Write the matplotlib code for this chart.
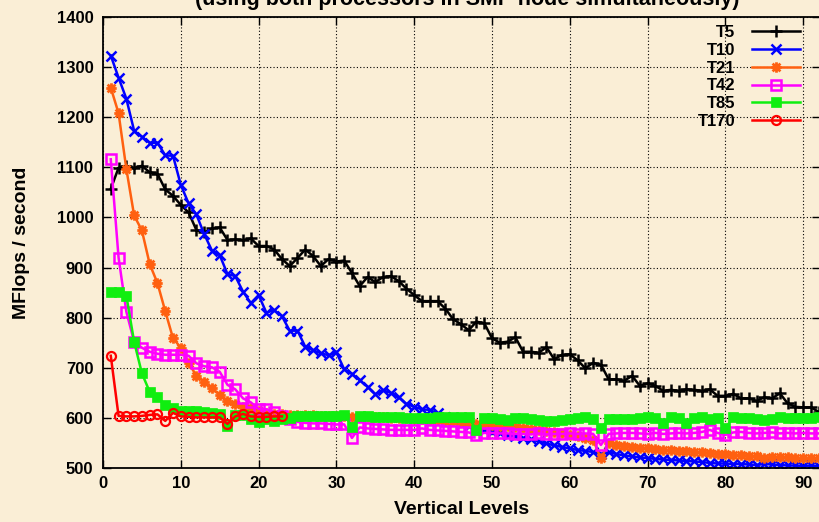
import numpy as np
import matplotlib
matplotlib.use("Agg")
import matplotlib.pyplot as plt
from matplotlib.path import Path

plt.rcParams['font.family'] = ['Liberation Sans', 'DejaVu Sans']
plt.rcParams['font.weight'] = 'bold'

levels = list(range(1, 93))

t5 = [1057, 1099, 1103, 1099, 1103, 1090, 1087, 1056, 1043, 1025,
      1010, 975, 970, 978, 980, 955, 956, 955, 958, 943,
      943, 936, 917, 903, 919, 936, 923, 903, 917, 912,
      914, 889, 863, 881, 871, 881, 883, 873, 858, 845,
      833, 833, 833, 818, 797, 787, 775, 792, 789, 759,
      750, 752, 761, 732, 732, 730, 741, 717, 726, 727,
      715, 699, 710, 706, 677, 677, 674, 684, 664, 669,
      664, 654, 656, 654, 657, 656, 654, 657, 644, 644,
      648, 639, 639, 634, 641, 639, 649, 629, 622, 621,
      621, 612]

t10 = [1323, 1279, 1237, 1173, 1161, 1149, 1149, 1124, 1123, 1065,
       1028, 1006, 967, 934, 925, 887, 883, 852, 829, 845,
       810, 815, 803, 774, 774, 742, 735, 729, 725, 731,
       697, 688, 675, 662, 647, 655, 650, 641, 628, 622,
       617, 616, 609, 602, 594, 587, 583, 579, 575, 572,
       569, 566, 563, 560, 557, 553, 549, 545, 542, 539,
       536, 534, 532, 528, 531, 528, 525, 523, 521, 520,
       518, 517, 516, 515, 514, 513, 512, 510, 509, 509,
       508, 508, 507, 506, 508, 507, 506, 505, 505, 504,
       505, 504]

t21 = [1259, 1208, 1097, 1004, 974, 907, 869, 813, 759, 740,
       710, 684, 672, 659, 646, 634, 628, 622, 619, 613,
       610, 608, 607, 606, 606, 605, 605, 604, 604, 604,
       604, 602, 602, 601, 601, 601, 600, 600, 599, 598,
       597, 596, 595, 594, 593, 592, 590, 588, 587, 586,
       584, 583, 581, 579, 578, 576, 574, 572, 569, 566,
       563, 560, 556, 519, 550, 546, 544, 542, 540, 539,
       538, 536, 535, 534, 533, 532, 531, 529, 528, 527,
       526, 525, 524, 523, 520, 521, 522, 521, 520, 519,
       519, 519]

t42 = [1116, 920, 812, 752, 740, 732, 728, 726, 726, 726,
       724, 709, 703, 701, 692, 666, 657, 639, 631, 618,
       617, 612, 604, 597, 592, 590, 589, 589, 588, 587,
       587, 560, 581, 579, 578, 577, 576, 576, 576, 576,
       579, 576, 575, 574, 573, 572, 571, 566, 570, 570,
       569, 569, 568, 568, 567, 569, 567, 568, 568, 569,
       568, 569, 568, 546, 568, 569, 570, 570, 569, 568,
       570, 568, 569, 570, 569, 570, 572, 576, 570, 566,
       571, 572, 570, 569, 570, 571, 569, 570, 569, 570,
       569, 569]

t85 = [851, 851, 844, 752, 689, 652, 642, 626, 619, 614,
       614, 613, 611, 610, 607, 583, 606, 605, 597, 592,
       597, 594, 598, 600, 603, 604, 604, 603, 603, 604,
       606, 582, 604, 603, 602, 602, 602, 601, 600, 600,
       600, 600, 601, 602, 602, 602, 601, 576, 600, 599,
       597, 596, 600, 599, 598, 595, 594, 593, 595, 597,
       600, 601, 598, 579, 598, 598, 597, 597, 599, 601,
       600, 590, 602, 600, 590, 599, 601, 598, 600, 579,
       601, 600, 599, 598, 595, 598, 601, 600, 599, 600,
       599, 601]

t170_levels = list(range(1, 24))
t170 = [724, 604, 603, 603, 604, 606, 607, 594, 610, 603,
        602, 601, 601, 601, 601, 588, 603, 608, 603, 602,
        602, 603, 603]

labels = ['T5', 'T10', 'T21', 'T42', 'T85', 'T170']
xticks = [0, 10, 20, 30, 40, 50, 60, 70, 80, 90]
yticks = [500, 600, 700, 800, 900, 1000, 1100, 1200, 1300, 1400]

bg = '#faeed6'

# asterisk marker (+ and x overlaid), like gnuplot point type 3
star = Path([(-1, 0), (1, 0), (0, -1), (0, 1),
             (-0.75, -0.75), (0.75, 0.75), (-0.75, 0.75), (0.75, -0.75)],
            [Path.MOVETO, Path.LINETO] * 4)

W, H = 819, 522
fig = plt.figure(figsize=(W / 100, H / 100), dpi=100, facecolor=bg)
ax_left, ax_right = 103, 820.3
ax_top, ax_bot = 17, 468
ax = fig.add_axes([ax_left / W, 1 - ax_bot / H, (ax_right - ax_left) / W, (ax_bot - ax_top) / H])
ax.set_facecolor(bg)

lw = 1.8
ax.plot(levels, t5, color='black', lw=lw, marker='+', ms=9, mew=1.8, label=labels[0])
ax.plot(levels, t10, color='#0000ff', lw=lw, marker='x', ms=7, mew=1.8, label=labels[1])
ax.plot(levels, t21, color='#ff6010', lw=lw, marker=star, ms=7.5, mew=2.0, label=labels[2])
ax.plot(levels, t42, color='#ff00ff', lw=lw, marker='s', ms=6.5, mew=1.8, mfc='none', label=labels[3])
ax.plot(levels, t85, color='#10ee10', lw=lw, marker='s', ms=6.5, mew=0.5, label=labels[4])
ax.plot(t170_levels, t170, color='#ff0000', lw=lw, marker='o', ms=6.5, mew=1.6, mfc='none', label=labels[5])

ax.set_xlim(0, 92.2)
ax.set_ylim(500, 1400)
ax.set_xticks(xticks)
ax.set_yticks(yticks)
ax.grid(True, color='black', linestyle=(0, (1, 2)), linewidth=0.8)
ax.tick_params(direction='in', length=6, width=1, top=True, right=True,
               labelsize=12, pad=7)
ax.tick_params(axis='x', pad=6)
for s in ax.spines.values():
    s.set_linewidth(1.3)

ax.set_xlabel('Vertical Levels', fontsize=14, fontweight='bold', labelpad=7)
ax.set_ylabel('MFlops / second', fontsize=14, fontweight='bold')
ax.yaxis.set_label_coords(-0.102, 0.5)

leg = ax.legend(loc='upper right', bbox_to_anchor=(800 / W, 1 - 25 / H),
                bbox_transform=fig.transFigure, frameon=False, markerfirst=False,
                fontsize=12, handlelength=2.9, handletextpad=1.0,
                labelspacing=0.17, borderpad=0, borderaxespad=0)

fig.text(0.570, 1 - 5 / H, '(using both processors in SMP node simultaneously)',
         ha='center', va='baseline', fontsize=15.5, fontweight='bold')

fig.savefig('out.png', dpi=100, facecolor=bg)
